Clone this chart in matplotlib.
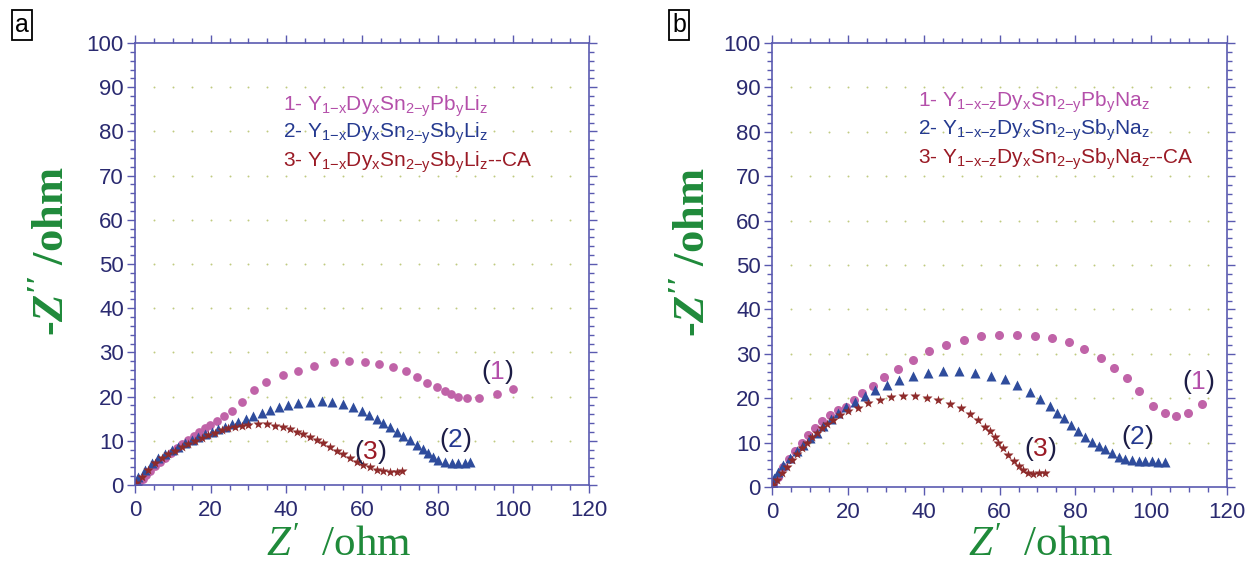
import numpy as np
import matplotlib
matplotlib.use('Agg')
import matplotlib.pyplot as plt
from matplotlib.offsetbox import TextArea, HPacker, AnnotationBbox

plt.rcParams['font.family'] = 'Liberation Sans'
plt.rcParams['mathtext.fontset'] = 'custom'
plt.rcParams['mathtext.rm'] = 'Liberation Serif'
plt.rcParams['mathtext.it'] = 'Liberation Serif:italic'
plt.rcParams['mathtext.bf'] = 'Liberation Serif:italic:bold'

# ---- panel a data (Z' , -Z'') ----
a1_x = [0.5, 1.2, 2.0, 3.0, 4.0, 5.2, 6.5, 8.0, 9.5, 11.0, 12.5, 14.0, 15.5, 17.0,
        18.5, 19.8, 21.7, 23.5, 25.7, 28.3, 31.5, 34.7, 39.2, 43.1, 47.4, 52.6,
        56.6, 60.8, 64.6, 68.3, 71.7, 74.6, 77.2, 79.9, 82.0, 83.6, 85.4, 87.8,
        91.0, 95.8, 100.0]
a1_y = [0.2, 0.7, 1.4, 2.3, 3.2, 4.2, 5.2, 6.2, 7.3, 8.3, 9.3, 10.2, 11.1, 12.0,
        12.8, 13.6, 14.5, 15.6, 16.7, 18.8, 21.5, 23.3, 24.9, 25.8, 26.9, 27.8,
        28.1, 27.8, 27.4, 26.7, 25.8, 24.4, 23.1, 22.2, 21.3, 20.6, 19.9, 19.7,
        19.7, 20.6, 21.7]

a2_x = [0.5, 0.8, 2.6, 4.5, 6.1, 7.9, 9.8, 11.4, 13.2, 15.1, 16.7, 18.5, 20.4,
        22.0, 23.8, 25.7, 27.2, 29.4, 31.2, 33.6, 35.7, 38.1, 40.5, 43.1, 46.3,
        49.5, 52.1, 55.0, 57.7, 60.1, 61.9, 64.0, 65.6, 67.5, 69.3, 70.9, 72.8,
        74.6, 76.2, 77.5, 78.8, 80.2, 82.0, 83.9, 85.4, 87.3, 88.6]
a2_y = [0.8, 1.8, 3.4, 5.0, 6.1, 7.0, 7.9, 8.6, 9.5, 10.2, 10.9, 11.5, 12.0,
        12.7, 13.1, 13.8, 14.3, 14.9, 15.6, 16.3, 17.0, 17.6, 18.1, 18.6, 18.8,
        19.0, 18.8, 18.3, 17.6, 16.7, 15.8, 14.9, 14.0, 13.1, 12.0, 11.1, 10.2,
        9.0, 8.1, 7.2, 6.3, 5.7, 5.2, 5.0, 5.0, 5.0, 5.2]

a3_x = [0.4, 1.8, 3.5, 5.3, 7.1, 8.8, 10.6, 12.4, 14.1, 15.9, 17.6, 19.4, 21.2,
        22.9, 24.7, 26.5, 28.2, 30.0, 32.6, 34.8, 37.0, 39.2, 41.0, 42.8, 44.5,
        46.3, 48.1, 49.8, 51.6, 53.4, 55.1, 56.9, 58.6, 60.4, 62.2, 63.9, 65.7,
        67.5, 69.2, 70.6]
a3_y = [0.4, 1.9, 3.4, 4.9, 6.0, 7.0, 7.8, 8.5, 9.3, 10.0, 10.6, 11.2, 11.8,
        12.4, 12.8, 13.2, 13.4, 13.6, 13.7, 13.7, 13.4, 13.1, 12.7, 12.1, 11.5,
        10.9, 10.2, 9.4, 8.7, 7.8, 6.9, 6.0, 5.3, 4.5, 4.0, 3.4, 3.2, 3.0, 3.0, 3.2]

# ---- panel b data ----
b1_x = [0.3, 1.5, 3.0, 4.5, 6.0, 7.8, 9.5, 11.3, 13.2, 15.2, 17.3, 19.5, 21.5,
        23.8, 26.6, 29.6, 33.1, 37.1, 41.5, 45.9, 50.5, 55.1, 59.9, 64.7, 69.4,
        73.8, 78.2, 82.3, 86.7, 90.1, 93.6, 96.9, 100.4, 103.7, 106.6, 109.7, 113.4]
b1_y = [0.5, 2.2, 4.4, 6.4, 8.2, 10.0, 11.7, 13.3, 14.9, 16.3, 17.4, 18.1, 19.6,
        21.2, 22.7, 24.7, 26.6, 28.6, 30.6, 32.0, 33.1, 33.9, 34.2, 34.2, 33.9,
        33.5, 32.7, 31.1, 29.0, 26.7, 24.5, 21.7, 18.3, 16.6, 16.0, 16.7, 18.6]

b2_x = [0.3, 0.6, 1.7, 3.0, 4.7, 6.5, 8.3, 10.0, 11.8, 13.5, 15.5, 17.5, 19.5,
        21.9, 24.5, 27.2, 30.3, 33.6, 37.3, 41.2, 45.2, 49.3, 53.4, 57.7, 61.5,
        64.7, 68.1, 70.7, 73.2, 75.1, 76.9, 78.8, 80.8, 82.6, 84.4, 86.1, 87.9,
        89.6, 91.4, 93.1, 94.9, 96.7, 98.4, 100.2, 101.9, 103.7]
b2_y = [0.8, 2.0, 3.4, 5.0, 6.5, 8.0, 9.5, 11.0, 12.2, 13.7, 15.2, 16.6, 18.0,
        19.2, 20.5, 21.8, 23.0, 24.1, 25.0, 25.7, 26.1, 26.1, 25.7, 25.1, 24.3,
        23.0, 21.5, 19.8, 18.2, 16.7, 15.5, 14.0, 12.5, 11.3, 10.2, 9.3, 8.5,
        7.6, 6.8, 6.2, 6.1, 5.9, 5.9, 5.8, 5.7, 5.7]

b3_x = [0.2, 1.2, 2.6, 3.9, 5.2, 6.5, 7.8, 9.1, 10.5, 11.8, 13.1, 14.4, 16.0,
        17.9, 20.1, 22.8, 25.4, 28.5, 31.3, 34.5, 37.7, 40.8, 43.9, 47.0, 49.8,
        52.2, 54.4, 56.2, 57.5, 58.7, 59.7, 61.0, 62.3, 63.7, 65.0, 66.3, 67.6,
        68.9, 70.3, 71.9]
b3_y = [0.4, 1.6, 3.1, 4.6, 6.1, 7.4, 8.7, 10.0, 11.2, 12.2, 13.2, 14.2, 15.1,
        16.2, 17.1, 17.9, 19.0, 19.7, 20.2, 20.6, 20.6, 20.1, 19.6, 18.7, 17.7,
        16.4, 15.1, 13.6, 12.5, 11.3, 10.0, 8.7, 7.2, 5.9, 4.8, 3.8, 3.1, 2.9, 3.1, 3.2]

legend_a = [r'1- Y$\mathregular{_{1{-}x}}$Dy$\mathregular{_x}$Sn$\mathregular{_{2{-}y}}$Pb$\mathregular{_y}$Li$\mathregular{_z}$',
            r'2- Y$\mathregular{_{1{-}x}}$Dy$\mathregular{_x}$Sn$\mathregular{_{2{-}y}}$Sb$\mathregular{_y}$Li$\mathregular{_z}$',
            r'3- Y$\mathregular{_{1{-}x}}$Dy$\mathregular{_x}$Sn$\mathregular{_{2{-}y}}$Sb$\mathregular{_y}$Li$\mathregular{_z}$--CA']
legend_b = [r'1- Y$\mathregular{_{1{-}x{-}z}}$Dy$\mathregular{_x}$Sn$\mathregular{_{2{-}y}}$Pb$\mathregular{_y}$Na$\mathregular{_z}$',
            r'2- Y$\mathregular{_{1{-}x{-}z}}$Dy$\mathregular{_x}$Sn$\mathregular{_{2{-}y}}$Sb$\mathregular{_y}$Na$\mathregular{_z}$',
            r'3- Y$\mathregular{_{1{-}x{-}z}}$Dy$\mathregular{_x}$Sn$\mathregular{_{2{-}y}}$Sb$\mathregular{_y}$Na$\mathregular{_z}$--CA']

c_pink, c_blue, c_red = '#c063a8', '#2f4c9c', '#8e2b2b'
t_pink, t_blue, t_red = '#b44faa', '#253a90', '#9a1a25'
spine_c = '#5a5ab0'
tick_c = '#2a2a70'
green = '#1f8a3a'

fig = plt.figure(figsize=(12.45, 5.65), dpi=100)
ax_a = fig.add_axes([0.1084, 0.1416, 0.3646, 0.7823])
ax_b = fig.add_axes([0.6201, 0.1381, 0.3655, 0.7858])


def style(ax):
    ax.set_xlim(0, 120)
    ax.set_ylim(0, 100)
    ax.set_xticks(np.arange(0, 121, 20))
    ax.set_yticks(np.arange(0, 101, 10))
    ax.set_xticks(np.arange(0, 121, 5), minor=True)
    ax.set_yticks(np.arange(0, 101, 2), minor=True)
    for s in ax.spines.values():
        s.set_color(spine_c)
        s.set_linewidth(1.2)
    ax.tick_params(which='both', direction='out', colors=spine_c, labelcolor=tick_c,
                   top=True, right=True, width=1.0)
    ax.tick_params(which='major', length=6, labelsize=16, pad=2)
    ax.tick_params(which='minor', length=3.5)
    ax.tick_params(axis='x', which='major', pad=5)
    # dotted horizontal grid
    gx, gy = np.meshgrid(np.arange(5, 120, 5), np.arange(10, 100, 10))
    ax.plot(gx.ravel(), gy.ravel(), ls='none', marker='o', ms=1.4,
            color='#c0ca80', mec='none', zorder=0)


def paren_label(ax, x, y, num, col):
    parts = [TextArea('(', textprops=dict(color='#1c1c45', fontsize=19)),
             TextArea(num, textprops=dict(color=col, fontsize=19)),
             TextArea(')', textprops=dict(color='#1c1c45', fontsize=19))]
    box = HPacker(children=parts, align='baseline', pad=0, sep=0)
    ab = AnnotationBbox(box, (x, y), frameon=False, box_alignment=(0.5, 0.5))
    ax.add_artist(ab)


for ax in (ax_a, ax_b):
    style(ax)

ax_a.plot(a1_x, a1_y, 'o', color=c_pink, ms=6.3, mec='none')
ax_a.plot(a2_x, a2_y, '^', color=c_blue, ms=7, mec='none')
ax_a.plot(a3_x, a3_y, '*', color=c_red, ms=7.5, mec='none')

ax_b.plot(b1_x, b1_y, 'o', color=c_pink, ms=6.5, mec='none')
ax_b.plot(b2_x, b2_y, '^', color=c_blue, ms=7, mec='none')
ax_b.plot(b3_x, b3_y, '*', color=c_red, ms=7.5, mec='none')

for txt, yy, col in zip(legend_a, [84.7, 78.5, 71.9], [t_pink, t_blue, t_red]):
    ax_a.text(39.2, yy, txt, color=col, fontsize=15, va='baseline', ha='left')
for txt, yy, col in zip(legend_b, [85.7, 79.3, 72.9], [t_pink, t_blue, t_red]):
    ax_b.text(38.5, yy, txt, color=col, fontsize=15, va='baseline', ha='left')

paren_label(ax_a, 95.8, 25.6, '1', t_pink)
paren_label(ax_a, 84.7, 10.2, '2', t_blue)
paren_label(ax_a, 62.2, 7.5, '3', t_red)
paren_label(ax_b, 112.4, 23.6, '1', t_pink)
paren_label(ax_b, 96.3, 11.3, '2', t_blue)
paren_label(ax_b, 70.7, 8.6, '3', t_red)

for ax, xl, yl in ((ax_a, (0.45, -0.095), (-0.137, 0.53)),
                   (ax_b, (0.59, -0.09), (-0.13, 0.53))):
    ax.set_xlabel(r"$\mathit{Z'}$  /ohm", fontsize=31, color=green,
                  family='Liberation Serif')
    ax.set_ylabel(r"-$\mathbf{Z''}$ /ohm", fontsize=32, color=green,
                  family='Liberation Serif', fontweight='bold')
    ax.xaxis.set_label_coords(*xl)
    ax.yaxis.set_label_coords(*yl)

box = dict(boxstyle='square,pad=0.12', fc='white', ec='black', lw=1.3)
fig.text(0.0175, 0.955, 'a', fontsize=18, ha='center', va='center', bbox=box)
fig.text(0.5455, 0.955, 'b', fontsize=18, ha='center', va='center', bbox=box)

fig.savefig('out.png', dpi=100)
